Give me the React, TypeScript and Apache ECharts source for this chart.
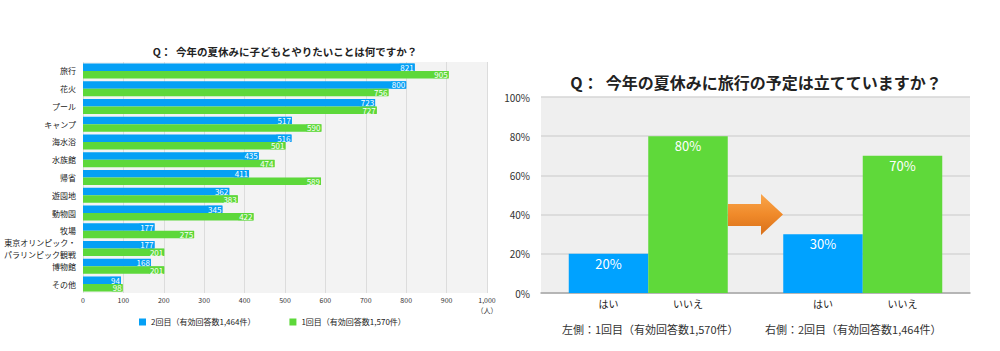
import React, { useEffect, useRef } from "react";
import * as echarts from "echarts";

const leftCategories = [
  "旅行", "花火", "プール", "キャンプ", "海水浴", "水族館", "帰省", "遊園地", "動物園", "牧場",
  "東京オリンピック・\nパラリンピック観戦", "博物館", "その他",
];
const secondRound = [821, 800, 723, 517, 516, 435, 411, 362, 345, 177, 177, 168, 94];
const firstRound = [905, 756, 727, 590, 501, 474, 589, 383, 422, 275, 201, 201, 98];
const leftXTicks = [0, 100, 200, 300, 400, 500, 600, 700, 800, 900, 1000];

const rightGroups = ["1回目", "2回目"];
const rightAnswers = ["はい", "いいえ"];
const yesValues = [20, 30];
const noValues = [80, 70];
const rightYTicks = [0, 20, 40, 60, 80, 100];

const BLUE = "#05a0f5";
const GREEN = "#5dd83a";
const FONT = "'Noto Sans CJK JP', 'Noto Sans', sans-serif";

export default function App() {
  const ref = useRef<HTMLDivElement>(null);
  useEffect(() => {
    if (!ref.current) return;
    const chart = echarts.init(ref.current, undefined, { renderer: "svg" });
    const barLabel = (color: string) => ({
      show: true,
      position: "insideRight" as const,
      distance: 0,
      color: "#fff",
      fontSize: 8,
      lineHeight: 7,
      fontFamily: FONT,
      backgroundColor: color,
      padding: [0, 1, 0, 1],
    });
    chart.setOption({
      animation: false,
      textStyle: { fontFamily: FONT },
      graphic: [
        {
          type: "text",
          x: 285,
          y: 51,
          style: {
            text: "Q：  今年の夏休みに子どもとやりたいことは何ですか？",
            fontSize: 10.5,
            fontWeight: "bold",
            fill: "#222",
            fontFamily: FONT,
            align: "center",
            verticalAlign: "middle",
          },
        },
        {
          type: "text",
          x: 756,
          y: 82,
          style: {
            text: "Q：  今年の夏休みに旅行の予定は立てていますか？",
            fontSize: 16,
            fontWeight: "bold",
            fill: "#222",
            fontFamily: FONT,
            align: "center",
            verticalAlign: "middle",
          },
        },
        {
          type: "text",
          x: 562,
          y: 329,
          style: {
            text: "左側：1回目（有効回答数1,570件）",
            fontSize: 11,
            fill: "#333",
            fontFamily: FONT,
            verticalAlign: "middle",
          },
        },
        {
          type: "text",
          x: 765,
          y: 329,
          style: {
            text: "右側：2回目（有効回答数1,464件）",
            fontSize: 11,
            fill: "#333",
            fontFamily: FONT,
            verticalAlign: "middle",
          },
        },
        {
          type: "polygon",
          shape: {
            points: [
              [728, 204], [761, 204], [761, 194], [783, 214.5], [761, 235], [761, 226], [728, 226],
            ],
          },
          style: {
            fill: new echarts.graphic.LinearGradient(0, 0, 0, 1, [
              { offset: 0, color: "#f9a64c" },
              { offset: 0.5, color: "#f08a2a" },
              { offset: 1, color: "#d8701a" },
            ]),
          },
          z: 100,
        },
      ],
      legend: {
        data: ["2回目（有効回答数1,464件）", "1回目（有効回答数1,570件）"],
        left: 134,
        top: 313,
        itemWidth: 7,
        itemHeight: 7,
        itemGap: 34,
        icon: "rect",
        textStyle: { fontSize: 8, color: "#222", fontFamily: FONT },
      },
      grid: [
        { left: 83, top: 62, width: 404, height: 231, backgroundColor: "#f3f3f3", show: true, borderWidth: 0 },
        { left: 541, top: 97, width: 429, height: 196, backgroundColor: "#efefef", show: true, borderWidth: 0 },
      ],
      xAxis: [
        {
          gridIndex: 0,
          type: "value",
          min: leftXTicks[0],
          max: leftXTicks[leftXTicks.length - 1],
          interval: 100,
          axisLine: { show: false },
          axisTick: { show: false },
          splitLine: { lineStyle: { color: "#dcdcdc", width: 1 } },
          axisLabel: {
            fontSize: 7,
            color: "#333",
            margin: 2,
            verticalAlign: "top",
            lineHeight: 10,
            formatter: (v: number) => (v === 1000 ? "1,000\n（人）" : String(v)),
          },
        },
        {
          gridIndex: 1,
          type: "category",
          data: rightGroups,
          axisLine: { lineStyle: { color: "#a8a8a8", width: 1.5 } },
          axisTick: { show: false },
          axisLabel: {
            margin: 5,
            formatter: () => `{a|${rightAnswers[0]}}{b|${rightAnswers[1]}}`,
            rich: {
              a: { width: 79.5, align: "center", fontSize: 10, color: "#222", fontFamily: FONT },
              b: { width: 79.5, align: "center", fontSize: 10, color: "#222", fontFamily: FONT },
            },
          },
        },
      ],
      yAxis: [
        {
          gridIndex: 0,
          type: "category",
          data: leftCategories,
          inverse: true,
          axisLine: { show: false },
          axisTick: { show: false },
          axisLabel: { fontSize: 8, color: "#222", margin: 7, lineHeight: 12, fontFamily: FONT },
        },
        {
          gridIndex: 1,
          type: "value",
          min: rightYTicks[0],
          max: rightYTicks[rightYTicks.length - 1],
          interval: 20,
          axisLine: { show: false },
          axisTick: { show: false },
          splitLine: { lineStyle: { color: "#d6d6d6", width: 1.5 } },
          axisLabel: { fontSize: 10, color: "#333", margin: 11, formatter: "{value}%" },
        },
      ],
      series: [
        {
          name: "2回目（有効回答数1,464件）",
          type: "bar",
          xAxisIndex: 0,
          yAxisIndex: 0,
          data: secondRound,
          barWidth: 7.5,
          barGap: "0%",
          itemStyle: { color: BLUE },
          label: barLabel(BLUE),
        },
        {
          name: "1回目（有効回答数1,570件）",
          type: "bar",
          xAxisIndex: 0,
          yAxisIndex: 0,
          data: firstRound,
          barWidth: 7.5,
          barGap: "0%",
          itemStyle: { color: GREEN },
          label: barLabel(GREEN),
        },
        {
          name: rightAnswers[0],
          type: "bar",
          xAxisIndex: 1,
          yAxisIndex: 1,
          data: yesValues,
          barWidth: 79.5,
          barGap: "0%",
          itemStyle: { color: "#00a2ff" },
          label: { show: true, position: "insideTop", distance: 3, color: "#fff", fontSize: 13, formatter: "{c}%" },
        },
        {
          name: rightAnswers[1],
          type: "bar",
          xAxisIndex: 1,
          yAxisIndex: 1,
          data: noValues,
          barWidth: 79.5,
          barGap: "0%",
          itemStyle: { color: "#5fd93a" },
          label: { show: true, position: "insideTop", distance: 3, color: "#fff", fontSize: 13, formatter: "{c}%" },
        },
      ],
    });
    return () => chart.dispose();
  }, []);
  return <div ref={ref} style={{ position: "fixed", left: 0, top: 0, width: 1000, height: 351, background: "#fff" }} />;
}
